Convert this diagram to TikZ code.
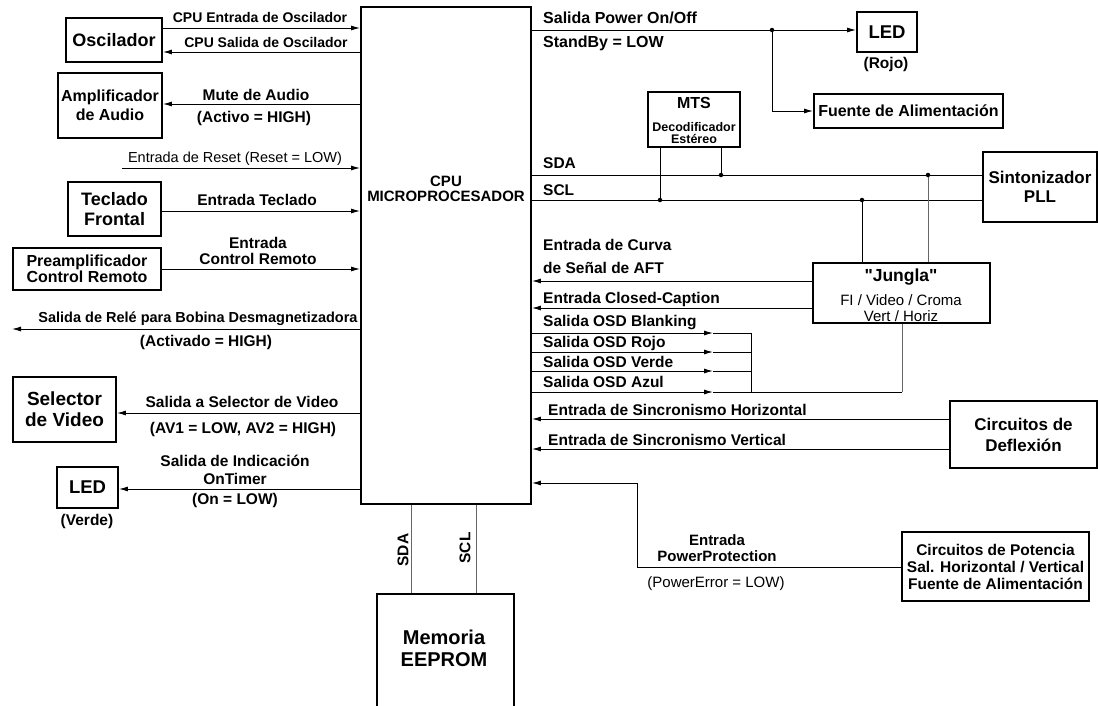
\documentclass[tikz,border=0pt]{standalone}
\usepackage{fontspec}
\setmainfont{Liberation Sans}
\newfontfamily\quotefont{Liberation Sans}
\usetikzlibrary{arrows.meta}
\newcommand\fsz[1]{\fontsize{#1}{#1}\selectfont}
\newcommand\fsb[2]{\fontsize{#1}{#2}\selectfont}
\newcommand\dq{{\quotefont\bfseries"}}
\begin{document}
\begin{tikzpicture}[x=1pt,y=-1pt,
  box/.style={draw, line width=1.8pt, inner sep=0pt, align=center, font=\bfseries},
  conn/.style={line width=1pt},
  arr/.style={conn, -{Latex[length=9pt,width=5pt]}},
  lbl/.style={inner sep=0pt, font=\bfseries\fsz{15.5}, align=center},
  lblw/.style={lbl, anchor=west},
  reg/.style={inner sep=0pt, font=\fsz{15}},
  bus/.style={line width=0.9pt, draw=black!60},
  dot/.style={circle, fill, inner sep=0pt, minimum size=4.5pt},
]
\useasboundingbox[fill=white] (0,0) rectangle (1098,705);

% ---------- CPU ----------
\node[box, minimum width=170pt, minimum height=497pt] (cpu) at (446,255.5) {};
\node[lbl, font=\bfseries\fsb{15}{15}] (cputxt) at (446,189) {CPU\\MICROPROCESADOR};

% ---------- left side ----------
\node[box, minimum width=96pt, minimum height=44pt, font=\bfseries\fsz{18}] (osc) at (114,40) {Oscilador};
\draw[arr] (osc.east |- 0,28) -- (cpu.west |- 0,28);
\draw[arr] (cpu.west |- 0,52) -- (osc.east |- 0,52);
\node[lbl, font=\bfseries\fsz{14}] (l1) at (260,17) {CPU Entrada de Oscilador};
\node[lbl, font=\bfseries\fsz{14}] (l2) at (266,42) {CPU Salida de Oscilador};

\node[box, minimum width=104pt, minimum height=65pt, font=\bfseries\fsb{16}{19}] (amp) at (110,105.5) {Amplificador\\de Audio};
\draw[arr] (cpu.west |- 0,104) -- (amp.east |- 0,104);
\node[lbl] (l3) at (256,95) {Mute de Audio};
\node[lbl] (l4) at (254,118) {(Activo = HIGH)};

\coordinate (rst) at (122,168);
\draw[arr] (rst) -- (cpu.west |- rst);
\node[reg, font=\fsz{14.5}] (l5) at (235,159) {Entrada de Reset (Reset = LOW)};

\node[box, minimum width=93pt, minimum height=54pt, font=\bfseries\fsb{18}{20}] (tec) at (114.5,209) {Teclado\\Frontal};
\draw[arr] (tec.east |- 0,211) -- (cpu.west |- 0,211);
\node[lbl] (l6) at (257,200) {Entrada Teclado};

\node[box, minimum width=148pt, minimum height=42pt, font=\bfseries\fsb{16}{16}] (pre) at (87,269) {Preamplificador\\Control Remoto};
\draw[arr] (pre.east |- 0,269) -- (cpu.west |- 0,269);
\node[lbl, font=\bfseries\fsb{15.5}{16}] (l7) at (258,251) {Entrada\\Control Remoto};

\coordinate (dsm) at (12,329);
\draw[arr] (cpu.west |- dsm) -- (dsm);
\node[lbl, font=\bfseries\fsz{14.5}] (l8) at (198,319) {Salida de Relé para Bobina Desmagnetizadora};
\node[lbl] (l9) at (206,342) {(Activado = HIGH)};

\node[box, minimum width=103pt, minimum height=65pt, font=\bfseries\fsb{19}{21}] (sel) at (64.5,409.5) {Selector\\de Video};
\draw[arr] (cpu.west |- 0,413) -- (sel.east |- 0,413);
\node[lbl] (l10) at (242,402) {Salida a Selector de Video};
\node[lbl] (l11) at (243,429) {(AV1 = LOW, AV2 = HIGH)};

\node[box, minimum width=61pt, minimum height=41pt, font=\bfseries\fsz{18.5}] (ledv) at (87.5,487.5) {LED};
\draw[arr] (cpu.west |- 0,489) -- (ledv.east |- 0,489);
\node[lbl, font=\bfseries\fsb{15.5}{18}] (l12) at (235,470) {Salida de Indicación\\OnTimer};
\node[lbl] (l13) at (235,500) {(On = LOW)};
\node[lbl] (l14) at (87,521) {(Verde)};

% ---------- top right ----------
\node[box, minimum width=60pt, minimum height=40pt, font=\bfseries\fsz{18.5}] (ledr) at (887,32) {LED};
\node[lbl] (l15) at (886,64) {(Rojo)};
\node[box, minimum width=189pt, minimum height=34pt, font=\bfseries\fsz{16}] (fue) at (908.5,111) {Fuente de Alimentación};
\coordinate (pj) at (772,30);
\draw[arr] (cpu.east |- pj) -- (ledr.west |- pj);
\draw[arr] (pj) |- (fue.west);
\node[dot] at (pj) {};
\node[lblw, font=\bfseries\fsz{16}] (l16) at (543,18) {Salida Power On/Off};
\node[lblw, font=\bfseries\fsz{16}] (l17) at (543,43) {StandBy = LOW};

% ---------- MTS / I2C bus ----------
\node[box, minimum width=92pt, minimum height=55pt] (mts) at (694,119.5) {};
\node[lbl, font=\bfseries\fsz{16}] (mtst) at (694,103) {MTS};
\node[lbl, font=\bfseries\fsb{12.5}{11.5}] (mtsd) at (694,133) {Decodificador\\Estéreo};

\node[box, minimum width=114pt, minimum height=70pt, font=\bfseries\fsb{17}{19}] (sin) at (1040,187) {Sintonizador\\PLL};
\draw[conn] (cpu.east |- 0,175) -- (sin.west |- 0,175);
\draw[conn] (cpu.east |- 0,200) -- (sin.west |- 0,200);
\node[lblw] (sda) at (543,163) {SDA};
\node[lblw] (scl) at (543,190) {SCL};
\draw[conn] (mts.south -| 660,0) -- (660,200);
\draw[conn] (mts.south -| 721,0) -- (721,175);

% ---------- Jungla ----------
\node[box, minimum width=177pt, minimum height=60pt] (jun) at (901.5,293) {};
\node[lbl, font=\bfseries\fsz{17.5}] (jt1) at (901,277) {\dq Jungla\dq};
\node[lbl, font=\fsb{15}{16}] (jt2) at (901,308) {FI / Video / Croma\\Vert / Horiz};
\draw[conn] (862,200) -- (jun.north -| 862,0);
\draw[bus] (928,175) -- (jun.north -| 928,0);
\node[dot] at (660,200) {};
\node[dot] at (721,175) {};
\node[dot] at (862,200) {};
\node[dot] at (928,175) {};

\draw[arr] (jun.west |- 0,281) -- (cpu.east |- 0,281);
\draw[arr] (jun.west |- 0,308) -- (cpu.east |- 0,308);
\node[lblw] (l18) at (543,245) {Entrada de Curva};
\node[lblw] (l19) at (543,268) {de Señal de AFT};
\node[lblw] (l20) at (543,299) {Entrada Closed-Caption};

% OSD outputs
\foreach \yy in {333,352,371} {
  \draw[arr] (cpu.east |- 0,\yy) -- (713,\yy);
  \draw[conn] (713,\yy) -- (751,\yy);
}
\draw[arr] (cpu.east |- 0,392) -- (713,392);
\draw[conn] (713,392) -- (902,392);
\draw[bus] (902,392) -- (jun.south -| 902,0);
\draw[conn] (751,333) -- (751,392);
\node[lblw] (l21) at (543,323) {Salida OSD Blanking};
\node[lblw] (l22) at (543,343) {Salida OSD Rojo};
\node[lblw] (l23) at (543,362) {Salida OSD Verde};
\node[lblw] (l24) at (543,382) {Salida OSD Azul};

% ---------- Deflexion ----------
\node[box, minimum width=147pt, minimum height=67pt, font=\bfseries\fsb{17}{21}] (def) at (1023.5,434.5) {Circuitos de\\Deflexión};
\draw[arr] (def.west |- 0,419) -- (cpu.east |- 0,419);
\draw[arr] (def.west |- 0,449) -- (cpu.east |- 0,449);
\node[lblw] (l25) at (548,410) {Entrada de Sincronismo Horizontal};
\node[lblw] (l26) at (548,440) {Entrada de Sincronismo Vertical};

% ---------- Potencia ----------
\node[box, minimum width=187pt, minimum height=69pt, font=\bfseries\fsb{15.5}{17}] (pot) at (995.5,566.5) {Circuitos de Potencia\\Sal. Horizontal / Vertical\\Fuente de Alimentación};
\draw[arr] (pot.west |- 0,567) -- (637,567) -- (637,483) -- (cpu.east |- 0,483);
\node[lbl, font=\bfseries\fsb{15}{16}] (l27) at (717,548) {Entrada\\PowerProtection};
\node[reg] (l28) at (716,584) {(PowerError = LOW)};

% ---------- EEPROM ----------
\node[box, minimum width=137pt, minimum height=160pt, anchor=north] (eep) at (445.5,593) {};
\node[lbl, font=\bfseries\fsb{20}{22}] (eept) at (444,648) {Memoria\\EEPROM};
\draw[bus] (cpu.south -| 411,0) -- (eep.north -| 411,0);
\draw[bus] (cpu.south -| 476,0) -- (eep.north -| 476,0);
\node[lbl, rotate=90] (esda) at (403,550) {SDA};
\node[lbl, rotate=90] (escl) at (465,548) {SCL};
\end{tikzpicture}
\end{document}
